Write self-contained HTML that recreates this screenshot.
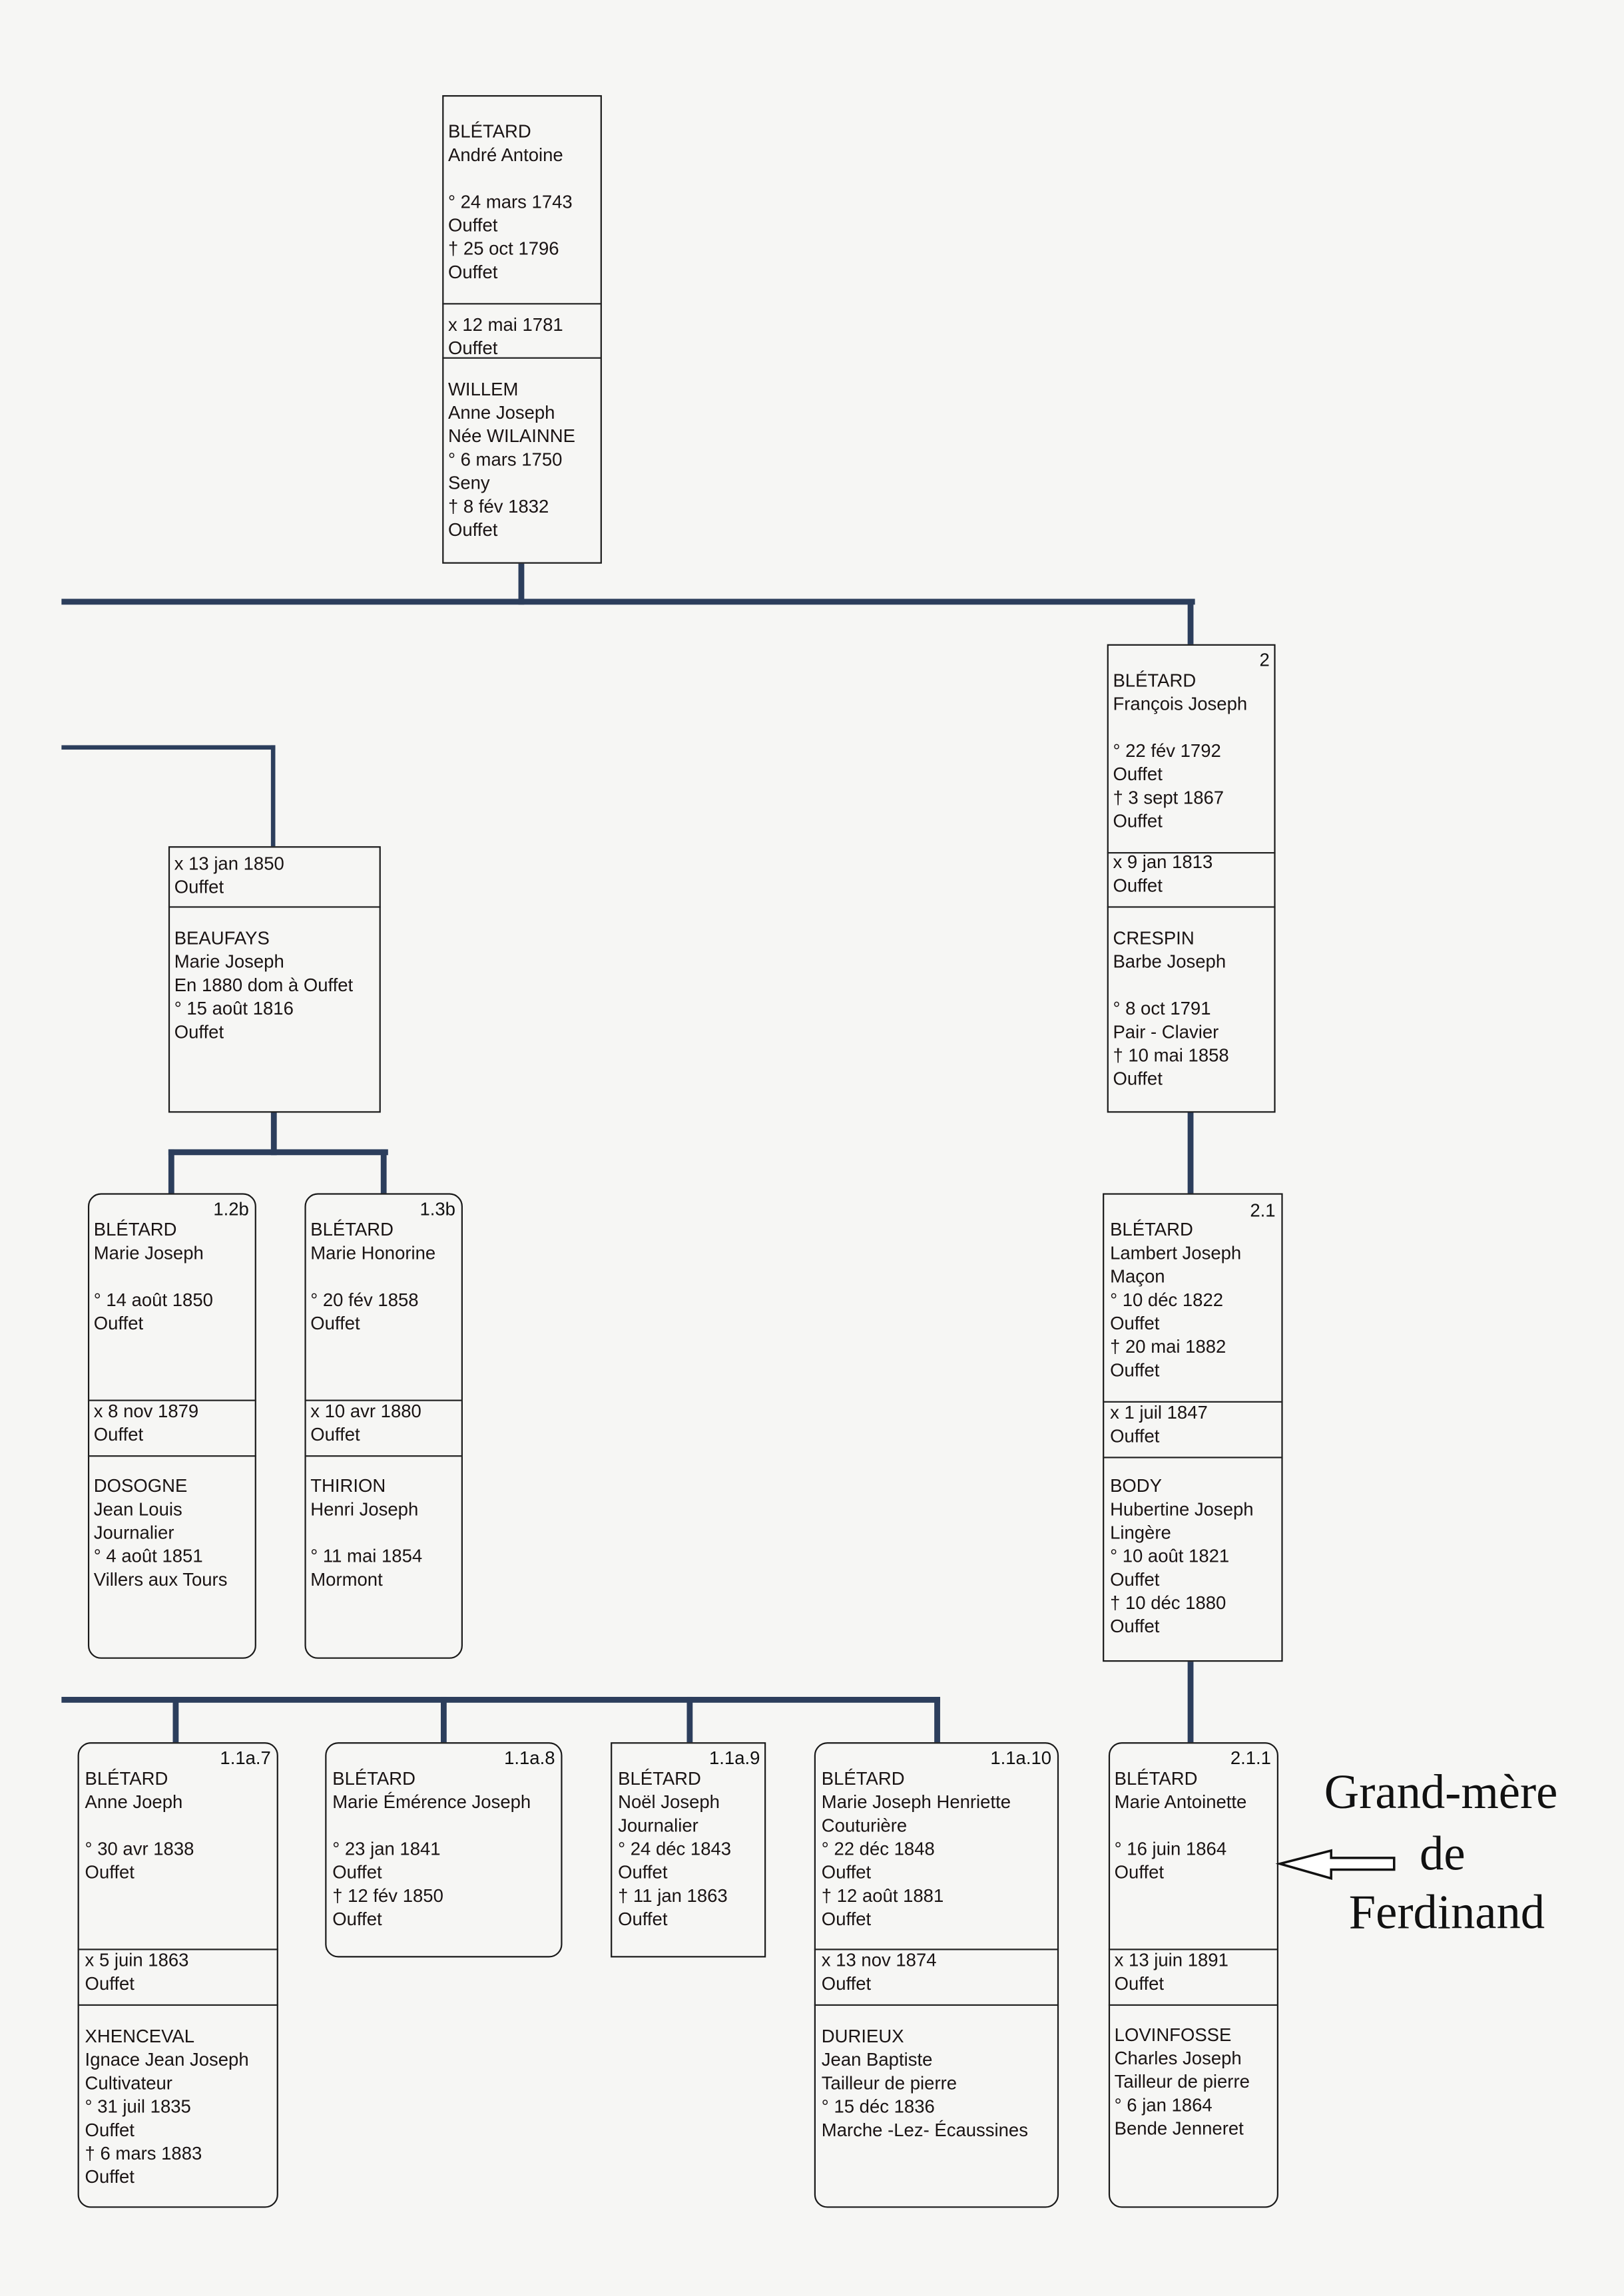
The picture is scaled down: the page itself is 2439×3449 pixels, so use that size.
<!DOCTYPE html>
<html><head><meta charset="utf-8">
<style>
html,body{margin:0;padding:0;background:#f6f6f4;}
body{width:2439px;height:3448px;overflow:hidden;position:relative;}
#s{position:absolute;left:0;top:0;width:1109px;height:1568px;transform:scale(2.1993);transform-origin:0 0;}
.b{position:absolute;border:1.3px solid #1a1a1a;box-sizing:border-box;}
.r{border-radius:9px;}
.d{position:absolute;height:0;border-top:1px solid #222;}
.t{position:absolute;font-family:"Liberation Sans",Arial,sans-serif;font-size:12.5px;line-height:16px;color:#1a1414;white-space:nowrap;}
.n{position:absolute;font-family:"Liberation Sans",Arial,sans-serif;font-size:12.5px;line-height:16px;color:#111;text-align:right;}
.h{position:absolute;background:#2c3e5c;height:4px;}
.v{position:absolute;background:#2c3e5c;width:4px;}
.g{position:absolute;font-family:"Liberation Serif","Times New Roman",serif;font-size:33px;line-height:40px;color:#111;text-align:center;width:220px;}
</style></head><body><div id="s">

<div class="v" style="left:354px;top:385px;height:28px"></div>
<div class="h" style="left:42px;top:409px;width:774px"></div>
<div class="v" style="left:811px;top:409px;height:31px"></div>
<div class="v" style="left:811px;top:760px;height:55px"></div>
<div class="v" style="left:811px;top:1135px;height:55px"></div>

<div class="h" style="left:42px;top:509px;width:146px;height:2.5px"></div>
<div class="v" style="left:185px;top:509px;height:69px;width:2.5px"></div>
<div class="v" style="left:185px;top:760px;height:29px"></div>
<div class="h" style="left:115px;top:785px;width:150px"></div>
<div class="v" style="left:115px;top:785px;height:30px"></div>
<div class="v" style="left:260px;top:785px;height:30px"></div>

<div class="h" style="left:42px;top:1159px;width:600px"></div>
<div class="v" style="left:118px;top:1159px;height:31px"></div>
<div class="v" style="left:301px;top:1159px;height:31px"></div>
<div class="v" style="left:469px;top:1159px;height:31px"></div>
<div class="v" style="left:638px;top:1159px;height:31px"></div>

<div class="b" style="left:302px;top:65px;width:109px;height:320px"></div>
<div class="d" style="left:302px;top:207px;width:109px"></div>
<div class="d" style="left:302px;top:244px;width:109px"></div>
<div class="t" style="left:306px;top:82px">BLÉTARD<br>André Antoine<br>&nbsp;<br>° 24 mars 1743<br>Ouffet<br>† 25 oct 1796<br>Ouffet</div>
<div class="t" style="left:306px;top:214px">x 12 mai 1781<br>Ouffet</div>
<div class="t" style="left:306px;top:258px">WILLEM<br>Anne Joseph<br>Née WILAINNE<br>° 6 mars 1750<br>Seny<br>† 8 fév 1832<br>Ouffet</div>

<div class="b" style="left:756px;top:440px;width:115px;height:320px"></div>
<div class="d" style="left:756px;top:582px;width:115px"></div>
<div class="d" style="left:756px;top:619px;width:115px"></div>
<div class="n" style="left:756px;top:443px;width:111px">2</div>
<div class="t" style="left:760px;top:457px">BLÉTARD<br>François Joseph<br>&nbsp;<br>° 22 fév 1792<br>Ouffet<br>† 3 sept 1867<br>Ouffet</div>
<div class="t" style="left:760px;top:581px">x 9 jan 1813<br>Ouffet</div>
<div class="t" style="left:760px;top:633px">CRESPIN<br>Barbe Joseph<br>&nbsp;<br>° 8 oct 1791<br>Pair - Clavier<br>† 10 mai 1858<br>Ouffet</div>

<div class="b" style="left:753px;top:815px;width:123px;height:320px"></div>
<div class="d" style="left:753px;top:957px;width:123px"></div>
<div class="d" style="left:753px;top:995px;width:123px"></div>
<div class="n" style="left:753px;top:819px;width:118px">2.1</div>
<div class="t" style="left:758px;top:832px">BLÉTARD<br>Lambert Joseph<br>Maçon<br>° 10 déc 1822<br>Ouffet<br>† 20 mai 1882<br>Ouffet</div>
<div class="t" style="left:758px;top:957px">x 1 juil 1847<br>Ouffet</div>
<div class="t" style="left:758px;top:1007px">BODY<br>Hubertine Joseph<br>Lingère<br>° 10 août 1821<br>Ouffet<br>† 10 déc 1880<br>Ouffet</div>

<div class="b r" style="left:757px;top:1190px;width:116px;height:318px"></div>
<div class="d" style="left:757px;top:1331px;width:116px"></div>
<div class="d" style="left:757px;top:1369px;width:116px"></div>
<div class="n" style="left:757px;top:1193px;width:111px">2.1.1</div>
<div class="t" style="left:761px;top:1207px">BLÉTARD<br>Marie Antoinette<br>&nbsp;<br>° 16 juin 1864<br>Ouffet</div>
<div class="t" style="left:761px;top:1331px">x 13 juin 1891<br>Ouffet</div>
<div class="t" style="left:761px;top:1382px">LOVINFOSSE<br>Charles Joseph<br>Tailleur de pierre<br>° 6 jan 1864<br>Bende Jenneret</div>

<div class="g" style="left:874px;top:1205px">Grand-mère</div>
<div class="g" style="left:875px;top:1247px">de</div>
<div class="g" style="left:878px;top:1287px">Ferdinand</div>
<svg style="position:absolute;left:870px;top:1260px" width="90" height="30">
<polygon points="4,13 39,4 39,9 82,9 82,17 39,17 39,23" fill="#fff" stroke="#111" stroke-width="1.6"/>
</svg>

<div class="b" style="left:115px;top:578px;width:145px;height:182px"></div>
<div class="d" style="left:115px;top:619px;width:145px"></div>
<div class="t" style="left:119px;top:582px">x 13 jan 1850<br>Ouffet</div>
<div class="t" style="left:119px;top:633px">BEAUFAYS<br>Marie Joseph<br>En 1880 dom à Ouffet<br>° 15 août 1816<br>Ouffet</div>

<div class="b r" style="left:60px;top:815px;width:115px;height:318px"></div>
<div class="d" style="left:60px;top:956px;width:115px"></div>
<div class="d" style="left:60px;top:994px;width:115px"></div>
<div class="n" style="left:60px;top:818px;width:110px">1.2b</div>
<div class="t" style="left:64px;top:832px">BLÉTARD<br>Marie Joseph<br>&nbsp;<br>° 14 août 1850<br>Ouffet</div>
<div class="t" style="left:64px;top:956px">x 8 nov 1879<br>Ouffet</div>
<div class="t" style="left:64px;top:1007px">DOSOGNE<br>Jean Louis<br>Journalier<br>° 4 août 1851<br>Villers aux Tours</div>

<div class="b r" style="left:208px;top:815px;width:108px;height:318px"></div>
<div class="d" style="left:208px;top:956px;width:108px"></div>
<div class="d" style="left:208px;top:994px;width:108px"></div>
<div class="n" style="left:208px;top:818px;width:103px">1.3b</div>
<div class="t" style="left:212px;top:832px">BLÉTARD<br>Marie Honorine<br>&nbsp;<br>° 20 fév 1858<br>Ouffet</div>
<div class="t" style="left:212px;top:956px">x 10 avr 1880<br>Ouffet</div>
<div class="t" style="left:212px;top:1007px">THIRION<br>Henri Joseph<br>&nbsp;<br>° 11 mai 1854<br>Mormont</div>

<div class="b r" style="left:53px;top:1190px;width:137px;height:318px"></div>
<div class="d" style="left:53px;top:1331px;width:137px"></div>
<div class="d" style="left:53px;top:1369px;width:137px"></div>
<div class="n" style="left:53px;top:1193px;width:132px">1.1a.7</div>
<div class="t" style="left:58px;top:1207px">BLÉTARD<br>Anne Joeph<br>&nbsp;<br>° 30 avr 1838<br>Ouffet</div>
<div class="t" style="left:58px;top:1331px">x 5 juin 1863<br>Ouffet</div>
<div class="t" style="left:58px;top:1383px">XHENCEVAL<br>Ignace Jean Joseph<br>Cultivateur<br>° 31 juil 1835<br>Ouffet<br>† 6 mars 1883<br>Ouffet</div>

<div class="b r" style="left:222px;top:1190px;width:162px;height:147px"></div>
<div class="n" style="left:222px;top:1193px;width:157px">1.1a.8</div>
<div class="t" style="left:227px;top:1207px">BLÉTARD<br>Marie Émérence Joseph<br>&nbsp;<br>° 23 jan 1841<br>Ouffet<br>† 12 fév 1850<br>Ouffet</div>

<div class="b" style="left:417px;top:1190px;width:106px;height:147px"></div>
<div class="n" style="left:417px;top:1193px;width:102px">1.1a.9</div>
<div class="t" style="left:422px;top:1207px">BLÉTARD<br>Noël Joseph<br>Journalier<br>° 24 déc 1843<br>Ouffet<br>† 11 jan 1863<br>Ouffet</div>

<div class="b r" style="left:556px;top:1190px;width:167px;height:318px"></div>
<div class="d" style="left:556px;top:1331px;width:167px"></div>
<div class="d" style="left:556px;top:1369px;width:167px"></div>
<div class="n" style="left:556px;top:1193px;width:162px">1.1a.10</div>
<div class="t" style="left:561px;top:1207px">BLÉTARD<br>Marie Joseph Henriette<br>Couturière<br>° 22 déc 1848<br>Ouffet<br>† 12 août 1881<br>Ouffet</div>
<div class="t" style="left:561px;top:1331px">x 13 nov 1874<br>Ouffet</div>
<div class="t" style="left:561px;top:1383px">DURIEUX<br>Jean Baptiste<br>Tailleur de pierre<br>° 15 déc 1836<br>Marche -Lez- Écaussines</div>

</div></body></html>
